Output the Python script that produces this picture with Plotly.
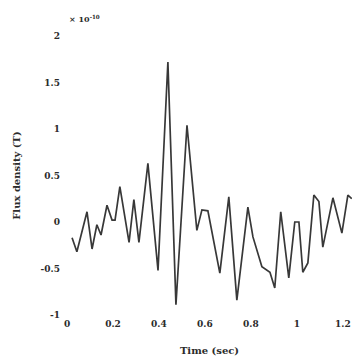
import plotly.graph_objects as go

time_sec = [0.022, 0.043, 0.087, 0.109, 0.130, 0.148, 0.174, 0.196, 0.209, 0.230,
            0.270, 0.291, 0.313, 0.352, 0.396, 0.439, 0.474, 0.522, 0.565, 0.587,
            0.613, 0.665, 0.704, 0.739, 0.787, 0.809, 0.848, 0.883, 0.904, 0.930,
            0.965, 0.991, 1.009, 1.026, 1.048, 1.074, 1.096, 1.113, 1.157, 1.196,
            1.222, 1.239]
flux_e10 = [-0.17, -0.32, 0.11, -0.29, -0.03, -0.14, 0.18, 0.02, 0.02, 0.38,
            -0.22, 0.24, -0.22, 0.63, -0.52, 1.72, -0.89, 1.04, -0.09, 0.13,
            0.12, -0.55, 0.27, -0.84, 0.16, -0.16, -0.48, -0.54, -0.71, 0.11,
            -0.60, 0.00, 0.00, -0.54, -0.44, 0.29, 0.22, -0.27, 0.26, -0.12,
            0.29, 0.25]

x_ticks = [0, 0.2, 0.4, 0.6, 0.8, 1.0, 1.2]
x_tick_labels = ["<b>0</b>", "<b>0.2</b>", "<b>0.4</b>", "<b>0.6</b>", "<b>0.8</b>", "<b>1</b>", "<b>1.2</b>"]
y_ticks = [-1, -0.5, 0, 0.5, 1, 1.5, 2]
y_tick_labels = ["<b>-1</b>", "<b>-0.5</b>", "<b>0</b>", "<b>0.5</b>", "<b>1</b>", "<b>1.5</b>", "<b>2</b>"]

font_family = "DejaVu Serif"
ink = "#2b2b2b"

fig = go.Figure()
fig.add_trace(go.Scatter(x=time_sec, y=flux_e10, mode="lines",
                         line=dict(color="#383838", width=1.7)))

fig.update_layout(
    width=355, height=353,
    margin=dict(l=59, r=11, t=28, b=46),
    paper_bgcolor="white", plot_bgcolor="white",
    showlegend=False,
    font=dict(family=font_family, color=ink, size=10),
    xaxis=dict(range=[0, 1.24], tickvals=x_ticks, ticktext=x_tick_labels,
               automargin=False,
               showgrid=False, zeroline=False, showline=False, ticks="",
               ticklabelstandoff=2,
               tickfont=dict(family=font_family, size=9, color=ink),
               title=dict(text="<b>Time (sec)</b>", standoff=18,
                          font=dict(family=font_family, size=10, color=ink))),
    yaxis=dict(range=[-1, 2], tickvals=y_ticks, ticktext=y_tick_labels,
               automargin=False,
               showgrid=False, zeroline=False, showline=False, ticks="",
               ticklabelstandoff=6,
               tickfont=dict(family=font_family, size=9, color=ink),
               title=dict(text="<b>Flux density (T)</b>", standoff=18,
                          font=dict(family=font_family, size=10, color=ink))),
    annotations=[dict(text="<b>× 10<sup>-10</sup></b>", xref="paper", yref="paper",
                      x=0.0, y=1.0, xanchor="left", yanchor="bottom", yshift=10,
                      showarrow=False,
                      font=dict(family=font_family, size=8, color=ink))],
)

fig.write_html("out.html")
